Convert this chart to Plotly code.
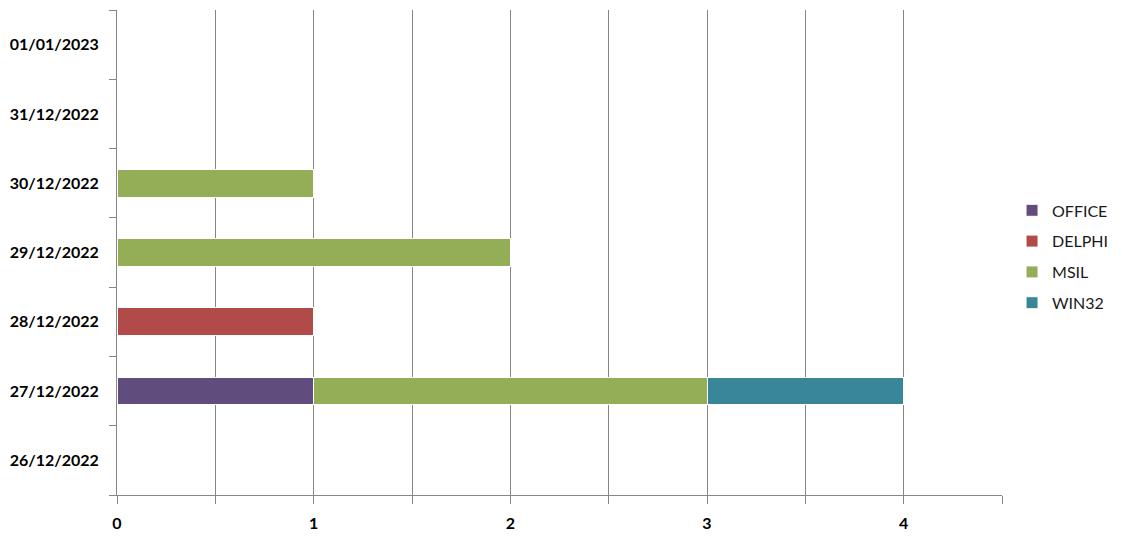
import plotly.graph_objects as go

categories = ["26/12/2022", "27/12/2022", "28/12/2022", "29/12/2022",
              "30/12/2022", "31/12/2022", "01/01/2023"]
office = [0, 1, 0, 0, 0, 0, 0]
delphi = [0, 0, 1, 0, 0, 0, 0]
msil = [0, 2, 0, 2, 1, 0, 0]
win32 = [0, 1, 0, 0, 0, 0, 0]
series_names = ["OFFICE", "DELPHI", "MSIL", "WIN32"]
colors = ["#614C7E", "#B04B4A", "#93AE56", "#3A8699"]
x_tickvals = [0, 0.5, 1, 1.5, 2, 2.5, 3, 3.5, 4, 4.5]
x_ticktext = ["0", "", "1", "", "2", "", "3", "", "4", ""]

fig = go.Figure()
for name, vals, col in zip(series_names, [office, delphi, msil, win32], colors):
    fig.add_trace(go.Bar(
        y=categories, x=vals, name=name, orientation="h",
        marker=dict(color=col, line=dict(color="white", width=1)),
        width=0.4, legendgroup=name,
    ))

fig.update_layout(
    barmode="stack",
    width=1122, height=542,
    margin=dict(l=117, r=120, t=10, b=47, autoexpand=False),
    plot_bgcolor="white", paper_bgcolor="white",
    font=dict(family="Lato, Open Sans, sans-serif", color="#000000"),
    showlegend=True,
    legend=dict(traceorder="grouped", xref="container", yref="container",
                x=0.902, xanchor="left", y=0.526, yanchor="middle",
                font=dict(size=16, color="#1a1a1a"), tracegroupgap=7, itemwidth=30),
)
fig.update_xaxes(
    range=[0, 4.5], tickvals=x_tickvals, ticktext=x_ticktext,
    showgrid=True, gridcolor="#868686", gridwidth=1,
    showline=True, linecolor="#868686", linewidth=1,
    ticks="outside", ticklen=8, tickcolor="#868686",
    tickfont=dict(size=16, family="Lato, Open Sans, sans-serif", weight="bold"),
    zeroline=False, ticklabelstandoff=6,
)
fig.update_yaxes(
    categoryorder="array", categoryarray=categories, range=[-0.5, 6.5],
    showgrid=False, showline=True, linecolor="#868686", linewidth=1,
    ticks="outside", ticklen=7, tickcolor="#868686", tickson="boundaries",
    tickfont=dict(size=16, family="Lato, Open Sans, sans-serif", weight="bold"),
    ticklabelstandoff=14,
)
fig.write_html("out.html", config={"displayModeBar": False},
               post_script="document.body.style.margin='0';")
